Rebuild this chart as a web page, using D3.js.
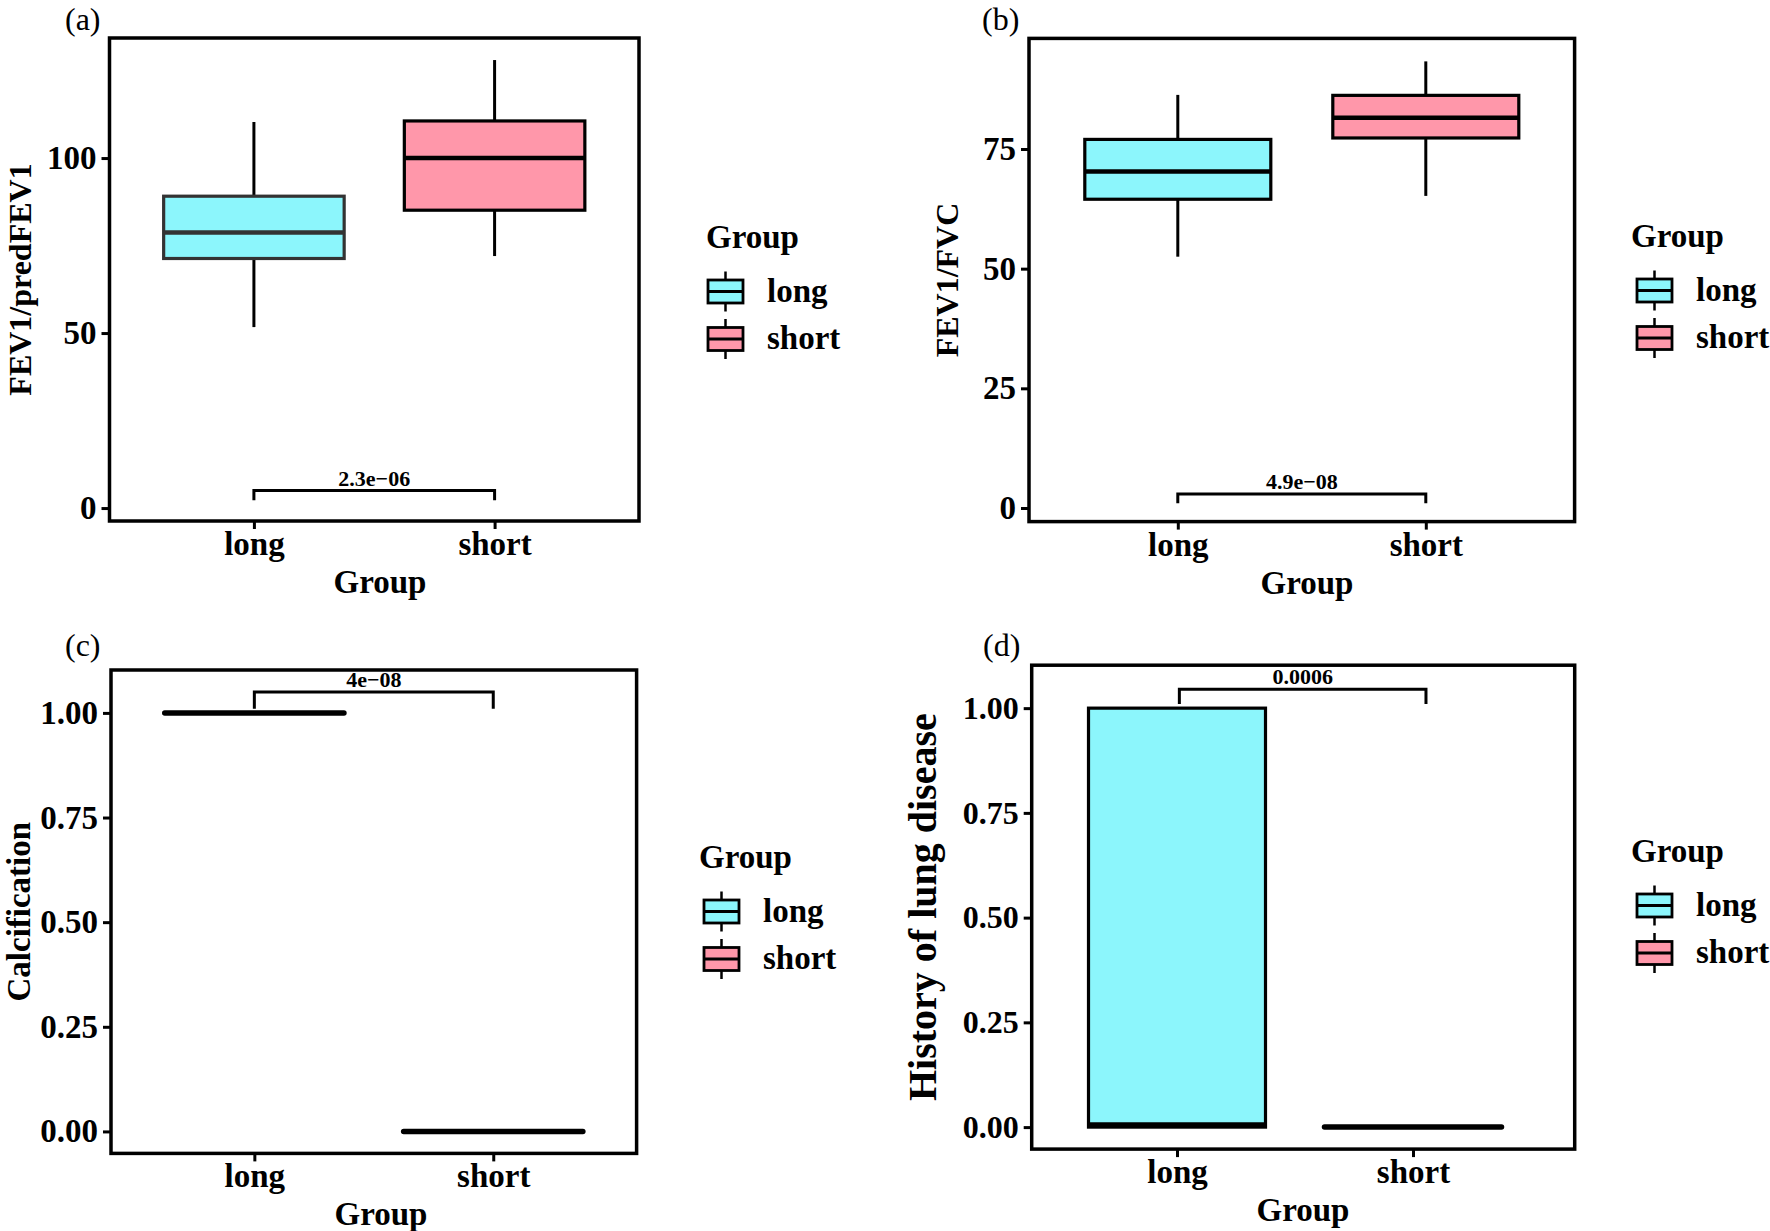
<!DOCTYPE html>
<html>
<head>
<meta charset="utf-8">
<script src="https://cdn.jsdelivr.net/npm/d3@7"></script>
<style>
  html, body { margin: 0; padding: 0; background: #fff; }
  svg { display: block; }
  text { font-family: "Liberation Serif", "Times New Roman", serif; fill: #000; }
</style>
</head>
<body>
<svg id="chart" width="1770" height="1231"></svg>
<script>
// ---------------- DATA ----------------
const groups = ["long", "short"];
const groupColors = ["#8cf6fc", "#ff97aa"];
const panelLabels = ["(a)", "(b)", "(c)", "(d)"];
const yTitles = ["FEV1/predFEV1", "FEV1/FVC", "Calcification", "History of lung disease"];
const xTitle = "Group";
const legendTitle = "Group";

// box statistics: [lower whisker, Q1, median, Q3, upper whisker]
const fev1PredLong  = [51.7, 71.3, 78.7, 89.1, 110.3];
const fev1PredShort = [72.0, 85.1, 100.0, 110.6, 128.0];
const fev1FvcLong   = [52.5, 64.5, 70.3, 77.0, 86.3];
const fev1FvcShort  = [65.2, 77.3, 81.5, 86.2, 93.3];
const calcLong      = [1, 1, 1, 1, 1];
const calcShort     = [0, 0, 0, 0, 0];
const lungLong      = [0, 0, 0, 1, 1];
const lungShort     = [0, 0, 0, 0, 0];

const ticksA = [0, 50, 100];
const tickLabelsA = ["0", "50", "100"];
const ticksB = [0, 25, 50, 75];
const tickLabelsB = ["0", "25", "50", "75"];
const ticksCD = [0, 0.25, 0.5, 0.75, 1];
const tickLabelsCD = ["0.00", "0.25", "0.50", "0.75", "1.00"];

const yDomains = [[-3.7, 134.3], [-2.84, 98.1], [-0.0525, 1.1025], [-0.0525, 1.1025]];

const pValues = ["2.3e\u221206", "4.9e\u221208", "4e\u221208", "0.0006"];
const bracketY = [5.0, 2.9, 1.05, 1.045];
const bracketLegEnd = [2.2, 1.0, 1.01, 1.01];
const bracketFrom = [1, 1, 1, 1.01];
const bracketTo = [2, 2, 2, 2.055];

// ---------------- LAYOUT ----------------
const panels = [
  { stats: [fev1PredLong, fev1PredShort], ticks: ticksA, tickLabels: tickLabelsA,
    box: [109.5, 38, 639, 521], xr: [109.5, 639], label: [65, 30], yTitleX: 31, yTitleSize: 32,
    tickSize: 33, xTitleX: 380, legend: [706, 248, 708], outline: ["#333", "#000"] },
  { stats: [fev1FvcLong, fev1FvcShort], ticks: ticksB, tickLabels: tickLabelsB,
    box: [1029, 38.4, 1574.6, 521.6], xr: [1029, 1574.6], label: [982, 30], yTitleX: 958, yTitleSize: 32,
    tickSize: 33, xTitleX: 1307, legend: [1631, 247, 1637], outline: ["#000", "#000"] },
  { stats: [calcLong, calcShort], ticks: ticksCD, tickLabels: tickLabelsCD,
    box: [111, 670, 636.6, 1153.4], xr: [111, 636.6], label: [65, 656], yTitleX: 30, yTitleSize: 33,
    tickSize: 33, xTitleX: 381, legend: [699, 868, 704], outline: ["#000", "#000"] },
  { stats: [lungLong, lungShort], ticks: ticksCD, tickLabels: tickLabelsCD,
    box: [1031.7, 665.2, 1574.7, 1149.1], xr: [1035.4, 1554.6], label: [983, 656], yTitleX: 936, yTitleSize: 40,
    tickSize: 32, xTitleX: 1303, legend: [1631, 862, 1637], outline: ["#000", "#000"] }
];

const svg = d3.select("#chart");
svg.append("rect").attr("width", 1770).attr("height", 1231).attr("fill", "#fff");

panels.forEach((p, i) => {
  const [L, T, R, B] = p.box;
  const g = svg.append("g");
  const x = d3.scaleLinear().domain([0.4, 2.6]).range(p.xr);
  const y = d3.scaleLinear().domain(yDomains[i]).range([B, T]);
  const boxW = x(1.375) - x(1);

  // panel label
  g.append("text").attr("x", p.label[0]).attr("y", p.label[1])
    .attr("font-size", 32).attr("font-weight", "normal").text(panelLabels[i]);

  // boxplots
  p.stats.forEach((s, gi) => {
    const cx = x(gi + 1);
    const col = p.outline[gi];
    const flat = s[1] === s[3];
    // whiskers
    g.append("line").attr("x1", cx).attr("x2", cx).attr("y1", y(s[0])).attr("y2", y(s[1]))
      .attr("stroke", "#000").attr("stroke-width", 3);
    g.append("line").attr("x1", cx).attr("x2", cx).attr("y1", y(s[3])).attr("y2", y(s[4]))
      .attr("stroke", "#000").attr("stroke-width", 3);
    // box
    g.append("rect").attr("x", cx - boxW).attr("width", 2 * boxW)
      .attr("y", y(s[3])).attr("height", Math.max(0, y(s[1]) - y(s[3])))
      .attr("fill", groupColors[gi]).attr("stroke", col).attr("stroke-width", 3.2);
    // median
    const onEdge = !flat && (s[2] === s[1] || s[2] === s[3]);
    g.append("line").attr("x1", cx - boxW).attr("x2", cx + boxW)
      .attr("y1", y(s[2]) - (onEdge ? 2 : 0)).attr("y2", y(s[2]) - (onEdge ? 2 : 0))
      .attr("stroke", col).attr("stroke-width", flat ? 5.5 : (onEdge ? 5.5 : 4.5))
      .attr("stroke-linecap", flat ? "round" : "butt");
  });

  // significance bracket
  const bx1 = x(bracketFrom[i]), bx2 = x(bracketTo[i]);
  const by = y(bracketY[i]), byl = y(bracketLegEnd[i]);
  g.append("path")
    .attr("d", `M${bx1},${byl}V${by}H${bx2}V${byl}`)
    .attr("fill", "none").attr("stroke", "#000").attr("stroke-width", 3);
  g.append("text").attr("x", (bx1 + bx2) / 2).attr("y", by - 5)
    .attr("text-anchor", "middle").attr("font-size", 22).attr("font-weight", "bold")
    .text(pValues[i]);

  // panel border
  g.append("rect").attr("x", L).attr("y", T).attr("width", R - L).attr("height", B - T)
    .attr("fill", "none").attr("stroke", "#000").attr("stroke-width", 3.5);

  // y axis
  const yAxis = d3.axisLeft(y).tickValues(p.ticks)
    .tickFormat((d, k) => p.tickLabels[k]).tickSize(8).tickPadding(5);
  const ya = g.append("g").attr("transform", `translate(${L},0)`).call(yAxis);
  ya.select(".domain").remove();
  ya.selectAll(".tick line").attr("stroke", "#000").attr("stroke-width", 3);
  ya.selectAll(".tick text").attr("font-size", p.tickSize).attr("font-weight", "bold")
    .attr("font-family", "Liberation Serif, Times New Roman, serif").attr("fill", "#000");

  // x axis
  const xAxis = d3.axisBottom(x).tickValues([1, 2])
    .tickFormat((d, k) => groups[k]).tickSize(8).tickPadding(4);
  const xa = g.append("g").attr("transform", `translate(0,${B})`).call(xAxis);
  xa.select(".domain").remove();
  xa.selectAll(".tick line").attr("stroke", "#000").attr("stroke-width", 3);
  xa.selectAll(".tick text").attr("font-size", 33).attr("font-weight", "bold")
    .attr("font-family", "Liberation Serif, Times New Roman, serif").attr("fill", "#000")
    .attr("dy", null).attr("y", 34).attr("dominant-baseline", "alphabetic");

  // axis titles
  g.append("text").attr("x", p.xTitleX).attr("y", B + 72).attr("text-anchor", "middle")
    .attr("font-size", 33).attr("font-weight", "bold").text(xTitle);
  g.append("text")
    .attr("transform", `translate(${p.yTitleX},${(T + B) / 2}) rotate(-90)`)
    .attr("text-anchor", "middle").attr("font-size", p.yTitleSize).attr("font-weight", "bold")
    .text(yTitles[i]);

  // legend
  const [lx, ly, kx] = p.legend;
  const lg = g.append("g");
  lg.append("text").attr("x", lx).attr("y", ly).attr("font-size", 33).attr("font-weight", "bold")
    .text(legendTitle);
  groups.forEach((gr, gi) => {
    const cy = ly + 43.5 + gi * 47.5;
    const kw = 35, kh = 23, kcx = kx + kw / 2;
    lg.append("line").attr("x1", kcx).attr("x2", kcx).attr("y1", cy - 20).attr("y2", cy + 20)
      .attr("stroke", "#000").attr("stroke-width", 2.5);
    lg.append("rect").attr("x", kx).attr("y", cy - kh / 2).attr("width", kw).attr("height", kh)
      .attr("fill", groupColors[gi]).attr("stroke", "#000").attr("stroke-width", 2.8);
    lg.append("line").attr("x1", kx).attr("x2", kx + kw).attr("y1", cy).attr("y2", cy)
      .attr("stroke", "#000").attr("stroke-width", 2.8);
    lg.append("text").attr("x", kx + 59).attr("y", cy + 10).attr("font-size", 33)
      .attr("font-weight", "bold").text(gr);
  });
});
</script>
</body>
</html>
